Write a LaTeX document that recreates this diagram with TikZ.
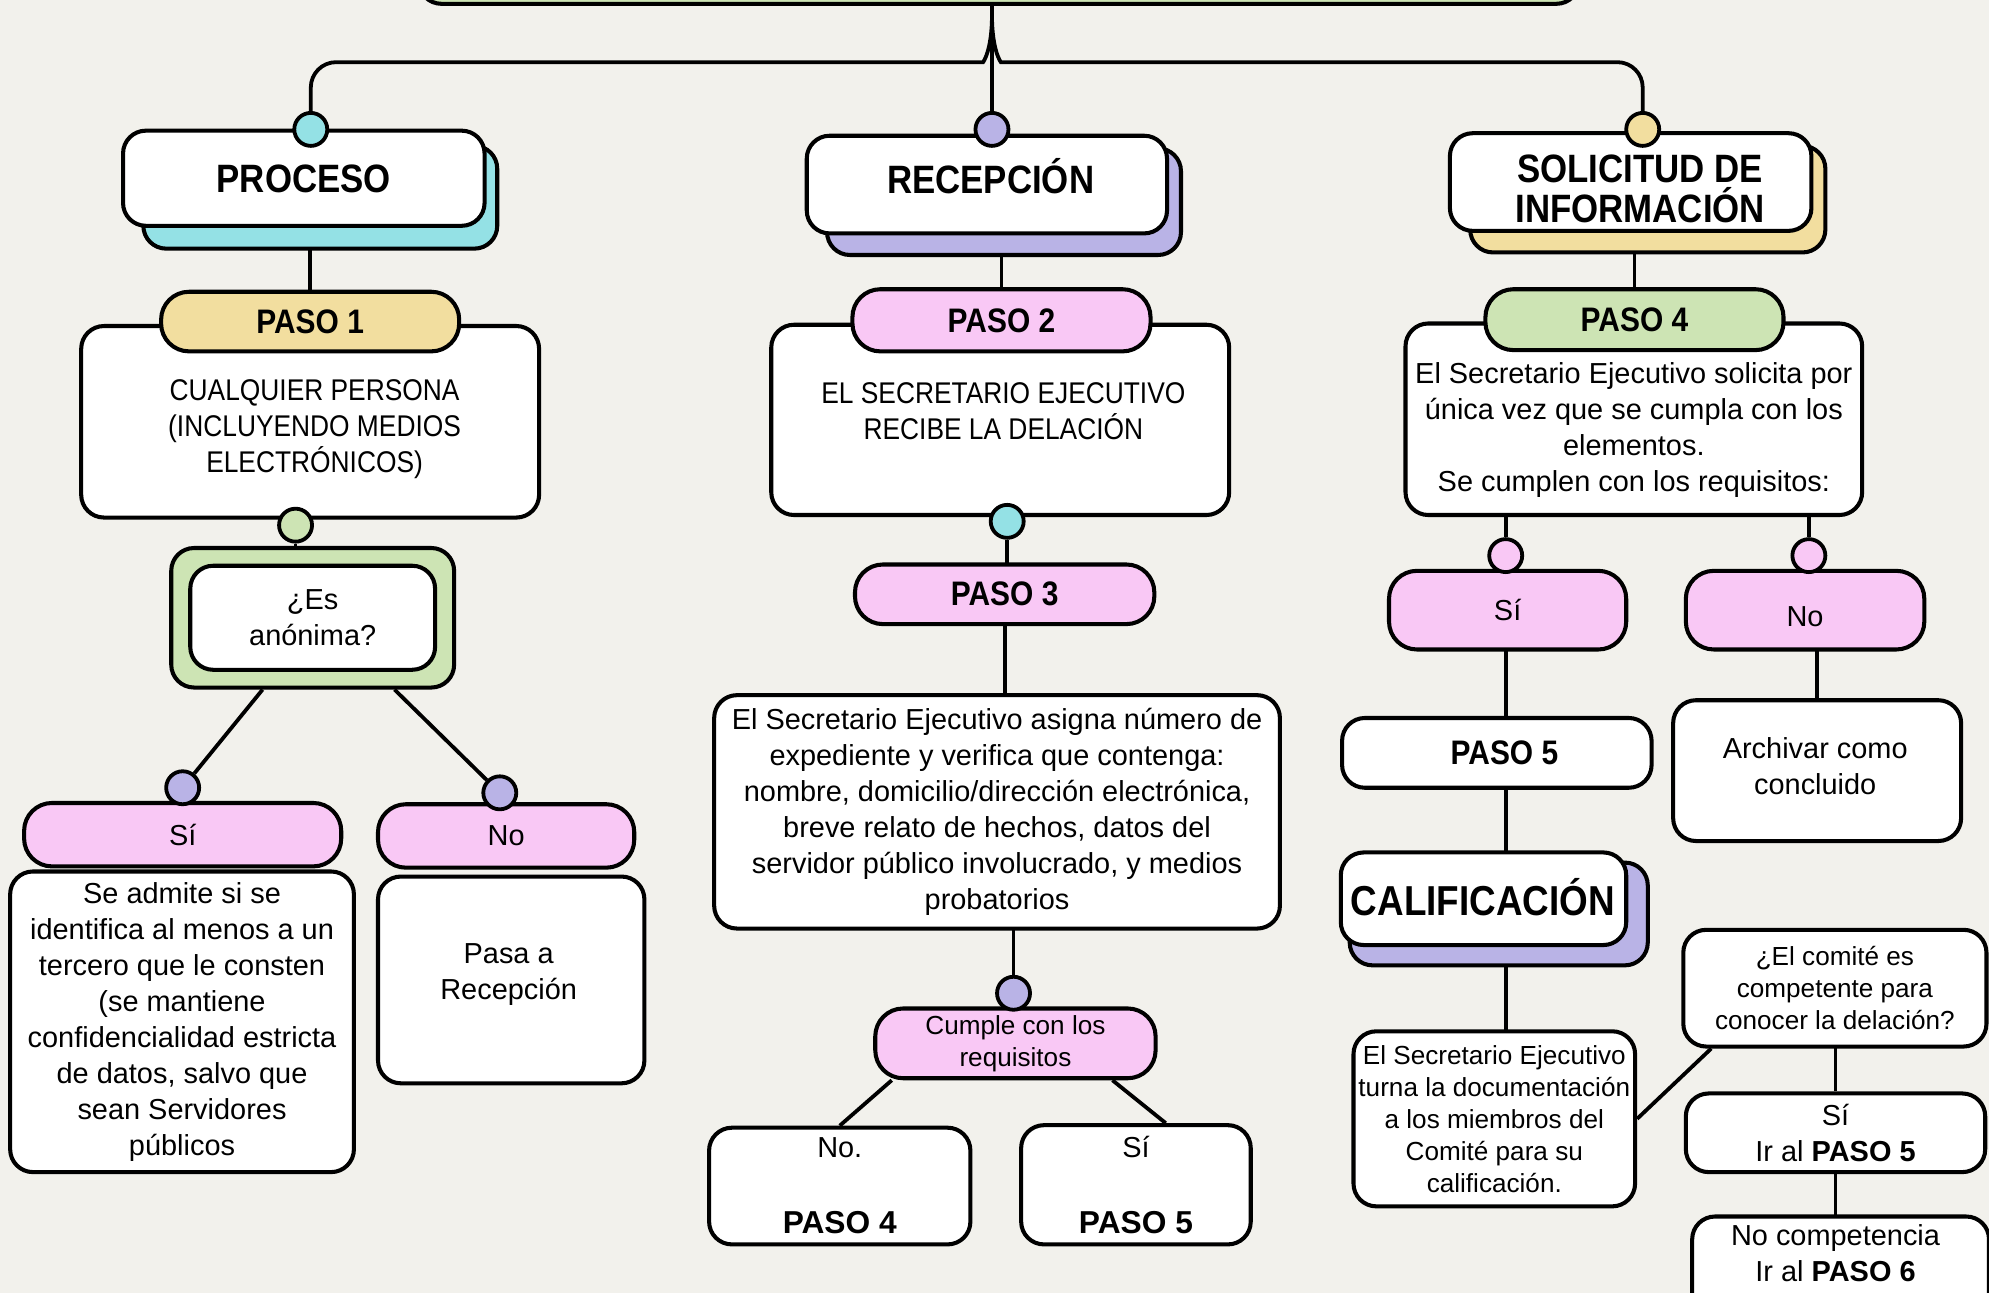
\documentclass[tikz,border=0pt]{standalone}
\usepackage{fontspec}
\setmainfont{Liberation Sans}
\newfontfamily\titular[FakeStretch=0.88]{Liberation Sans}
\usepackage{tikz}
\usetikzlibrary{positioning}

\definecolor{fondo}{HTML}{F2F1EC}
\definecolor{turquesa}{HTML}{94E1E5}
\definecolor{lila}{HTML}{B9B3E6}
\definecolor{amarillo}{HTML}{F2DE9F}
\definecolor{verde}{HTML}{CDE4B4}
\definecolor{rosa}{HTML}{F9C8F5}

\pgfdeclarelayer{capafondo}
\pgfdeclarelayer{lineas}
\pgfsetlayers{capafondo,lineas,main}

\tikzset{
  caja/.style={draw, line width=1.6pt, rounded corners=9pt, fill=white, inner sep=0pt, align=center, font=\fontsize{11.4}{14.2}\selectfont},
  pildora/.style={caja, rounded corners=11pt},
  tam/.style 2 args={minimum width=#1*0.5pt, minimum height=#2*0.5pt},
  punto/.style={circle, draw, line width=1.5pt, minimum size=13pt, inner sep=0pt},
  linea/.style={line width=1.5pt},
  encabezado/.style={align=center, inner sep=0pt, font=\titular\bfseries\fontsize{15.6}{15.5}\selectfont},
  paso/.style={font=\titular\bfseries\fontsize{13.4}{14}\selectfont},
  texto/.style={align=center, inner sep=0pt, font=\fontsize{11.4}{14.2}\selectfont},
  mayus/.style={align=center, inner sep=0pt, font=\titular\fontsize{11.8}{14.2}\selectfont},
  chico/.style={font=\fontsize{10.3}{12.6}\selectfont}
}

\begin{document}
\begin{tikzpicture}[x=0.5pt,y=-0.5pt]
\useasboundingbox (0,0) rectangle (1568,1019);
\begin{pgfonlayer}{capafondo}
\fill[fondo] (0,0) rectangle (1568,1019);
\end{pgfonlayer}

% cabecera
\node[caja,fill=verde,tam={915}{43}] (titulo) at (787.5,-18.5) {};
\coordinate (rama) at (782,12);

% columna izquierda
\node[caja,fill=turquesa,tam={279}{81}] (proceso-s) at (252.5,155.5) {};
\node[caja,tam={285}{75}] (proceso) at (239.5,140.5) {};
\node[encabezado] (t-proceso) at (239.5,141) {PROCESO};
\node[caja,tam={361}{151}] (paso1) at (244.5,332.5) {};
\node[pildora,paso,fill=amarillo,tam={235}{47}] (paso1-t) at (244.5,253.5) {PASO 1};
\node[mayus] (t-paso1) at (248,338) {CUALQUIER PERSONA\\(INCLUYENDO MEDIOS\\ELECTRÓNICOS)};
\node[caja,fill=verde,tam={223}{110}] (anonima-f) at (246.5,487) {};
\node[caja,tam={193}{82}] (anonima) at (246.5,487) {¿Es\\anónima?};
\node[pildora,fill=rosa,tam={250}{50}] (si1) at (144,658) {Sí};
\node[pildora,fill=rosa,tam={202}{50}] (no1) at (399,659) {No};
\node[caja,tam={271}{237}] (admite) at (143.5,805.5) {Se admite si se\\identifica al menos a un\\tercero que le consten\\(se mantiene\\confidencialidad estricta\\de datos, salvo que\\sean Servidores\\públicos};
\node[caja,tam={210}{163}] (pasa) at (403,772.5) {};
\node[texto] (t-pasa) at (401,768) {Pasa a\\Recepción};

% columna central
\node[caja,fill=lila,tam={279}{84}] (recepcion-s) at (791.5,159) {};
\node[caja,tam={284}{77}] (recepcion) at (778,145.5) {};
\node[encabezado] (t-recepcion) at (781,139) {RECEPCIÓN};
\node[caja,tam={361}{150}] (paso2) at (788.5,331) {};
\node[pildora,paso,fill=rosa,tam={235}{49}] (paso2-t) at (789.5,252.5) {PASO 2};
\node[mayus] (t-paso2) at (791,324) {EL SECRETARIO EJECUTIVO\\RECIBE LA DELACIÓN};
\node[pildora,paso,fill=rosa,tam={236}{47}] (paso3) at (792,468.5) {PASO 3};
\node[caja,tam={446}{184}] (asigna) at (786,640) {El Secretario Ejecutivo asigna número de\\expediente y verifica que contenga:\\nombre, domicilio/dirección electrónica,\\breve relato de hechos, datos del\\servidor público involucrado, y medios\\probatorios};
\node[pildora,chico,fill=rosa,tam={221}{55}] (cumple) at (800.5,822.5) {Cumple con los\\requisitos};
\node[caja,tam={206}{92}] (no2) at (662,935) {No.\\[15.8pt]{\bfseries\fontsize{12.5}{14}\selectfont PASO 4}};
\node[caja,tam={181}{94}] (si2) at (895.5,934) {Sí\\[15.8pt]{\bfseries\fontsize{12.5}{14}\selectfont PASO 5}};

% columna derecha
\node[caja,fill=amarillo,tam={280}{84}] (solicitud-s) at (1299,157) {};
\node[caja,tam={285}{77}] (solicitud) at (1285.5,143.5) {};
\node[encabezado] (t-solicitud) at (1293,149) {SOLICITUD DE\\INFORMACIÓN};
\node[caja,tam={360}{151}] (paso4) at (1288,330.5) {};
\node[pildora,paso,fill=verde,tam={235}{48}] (paso4-t) at (1288.5,252) {PASO 4};
\node[texto] (t-paso4) at (1288,339) {El Secretario Ejecutivo solicita por\\única vez que se cumpla con los\\elementos.\\Se cumplen con los requisitos:};
\node[pildora,fill=rosa,tam={187}{62}] (si3) at (1188.5,481) {Sí};
\node[pildora,fill=rosa,tam={188}{62}] (no3) at (1423,481) {};
\node[texto] (t-no3) at (1423,486) {No};
\node[caja,tam={244}{55}] (paso5) at (1180,593.5) {};
\node[paso,inner sep=0pt] (t-paso5) at (1186,593.5) {PASO 5};
\node[caja,tam={227}{111}] (archivar) at (1432.5,607.5) {};
\node[texto] (t-archivar) at (1431,604) {Archivar como\\concluido};
\node[caja,fill=lila,tam={235}{81}] (calif-s) at (1181.5,720.5) {};
\node[caja,tam={225}{73}] (calif) at (1169.5,708.5) {};
\node[encabezado,font=\titular\bfseries\fontsize{16.5}{18}\selectfont] (t-calif) at (1169,707) {CALIFICACIÓN};
\node[caja,chico,tam={222}{138}] (turna) at (1178,882) {El Secretario Ejecutivo\\turna la documentación\\a los miembros del\\Comité para su\\calificación.};
\node[caja,chico,tam={239}{92}] (comite) at (1446.5,779) {¿El comité es\\competente para\\conocer la delación?};
\node[caja,tam={236}{62}] (ir5) at (1447,893) {Sí\\Ir al \textbf{PASO 5}};
\node[caja,tam={234}{86}] (ir6) at (1451,1002) {};
\node[texto] (t-ir6) at (1447,988) {No competencia\\Ir al \textbf{PASO 6}};

% puntos
\node[punto,fill=turquesa] (d-proceso) at (245,102) {};
\node[punto,fill=lila] (d-recepcion) at (782,102) {};
\node[punto,fill=amarillo] (d-solicitud) at (1295,102) {};
\node[punto,fill=verde] (d-paso1) at (233,414) {};
\node[punto,fill=lila] (d-si1) at (144,621) {};
\node[punto,fill=lila] (d-no1) at (394,625) {};
\node[punto,fill=turquesa] (d-paso2) at (794,411) {};
\node[punto,fill=lila] (d-cumple) at (799,783) {};
\node[punto,fill=rosa] (d-si3) at (1187,438) {};
\node[punto,fill=rosa] (d-no3) at (1426,438) {};

% conectores
\begin{pgfonlayer}{lineas}
\draw[linea] (d-recepcion |- titulo.south) -- (d-recepcion);
\draw[linea,rounded corners=10pt] (d-proceso) |- (755,49) .. controls (775,49) and (782,40) .. (rama);
\draw[linea,rounded corners=10pt] (d-solicitud) |- (809,49) .. controls (789,49) and (782,40) .. (rama);
\draw[linea] (paso1-t) -- (paso1-t |- proceso-s);
\draw[linea] (d-paso1) -- (d-paso1 |- anonima-f);
\draw[linea] ([xshift=-19.75pt]anonima-f.south) -- (d-si1);
\draw[linea] ([xshift=32.25pt]anonima-f.south) -- (d-no1);
\draw[linea] (paso2-t) -- (paso2-t |- recepcion-s);
\draw[linea] (d-paso2) -- (d-paso2 |- paso3);
\draw[linea] (paso3) -- (paso3 |- asigna);
\draw[linea] (d-cumple) -- (d-cumple |- asigna);
\draw[linea] ([xshift=-48.75pt]cumple.south) -- (no2.north);
\draw[linea] ([xshift=38.25pt]cumple.south) -- ([xshift=11.75pt]si2.north);
\draw[linea] (paso4-t) -- (paso4-t |- solicitud-s);
\draw[linea] (d-si3) -- (d-si3 |- paso4);
\draw[linea] (d-no3) -- (d-no3 |- paso4);
\draw[linea] (d-si3 |- si3) -- (d-si3 |- turna);
\draw[linea] (archivar) -- (archivar |- no3);
\draw[linea] (turna.east) -- ([xshift=-48.75pt]comite.south);
\draw[linea] (ir5) -- (ir5 |- comite);
\draw[linea] (ir5) -- (ir5 |- ir6);
\end{pgfonlayer}
\end{tikzpicture}
\end{document}
